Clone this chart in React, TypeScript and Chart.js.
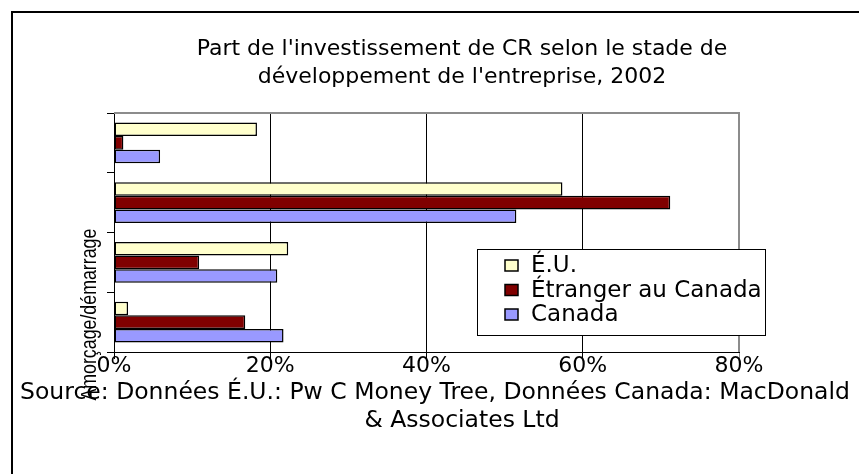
import React, { useEffect, useRef } from 'react';
import { Chart, registerables } from 'chart.js';

Chart.register(...registerables);

const categories = ['Amorçage/démarrage', '', '', ''];
const seriesNames = ['É.U.', 'Étranger au Canada', 'Canada'];
const euValues = [1.8, 22.3, 57.4, 18.3];
const etrangerValues = [16.8, 10.9, 71.2, 1.2];
const canadaValues = [21.7, 20.9, 51.5, 5.9];
const xTickValues = [0, 20, 40, 60, 80];
const titleLines = ["Part de l'investissement de CR selon le stade de", "développement de l'entreprise, 2002"];
const sourceLines = ['Source: Données É.U.: Pw C Money Tree, Données Canada: MacDonald', '& Associates Ltd'];
const seriesColors = ['#FFFFCC', '#800000', '#9999FF'];

const FONT = '"DejaVu Sans", sans-serif';
const ARIAL = '"Liberation Sans", Arial, sans-serif';

const framePlugin = {
  id: 'frame',
  beforeDraw(chart: any) {
    const { ctx, width, height } = chart;
    ctx.save();
    ctx.fillStyle = '#ffffff';
    ctx.fillRect(0, 0, width, height);
    ctx.strokeStyle = '#000000';
    ctx.lineWidth = 2;
    ctx.strokeRect(12, 12, 900, height + 20);
    ctx.restore();
  },
};

const plotBorderPlugin = {
  id: 'plotBorder',
  afterDatasetsDraw(chart: any) {
    const { ctx, chartArea } = chart;
    ctx.save();
    ctx.strokeStyle = '#8c8c8c';
    ctx.lineWidth = 2;
    ctx.beginPath();
    ctx.moveTo(chartArea.left, chartArea.top);
    ctx.lineTo(chartArea.right, chartArea.top);
    ctx.lineTo(chartArea.right, chartArea.bottom);
    ctx.stroke();
    ctx.restore();
  },
};

const extrasPlugin = {
  id: 'extras',
  afterDraw(chart: any) {
    const { ctx } = chart;
    const yScale = chart.scales.y;
    // category labels (rotated)
    categories.forEach((lab, i) => {
      if (!lab) return;
      const py = yScale.getPixelForValue(i);
      ctx.save();
      ctx.translate(90, py - 7.5);
      ctx.rotate(-Math.PI / 2);
      ctx.scale(1, 1.25);
      ctx.font = '17.8px ' + ARIAL;
      ctx.fillStyle = '#000';
      ctx.textAlign = 'center';
      ctx.textBaseline = 'middle';
      ctx.fillText(lab, 0, 0);
      ctx.restore();
    });

    // source lines
    ctx.save();
    ctx.font = '23.5px ' + FONT;
    ctx.fillStyle = '#000';
    ctx.textAlign = 'center';
    ctx.textBaseline = 'middle';
    ctx.fillText(sourceLines[0], 435, 393);
    ctx.fillText(sourceLines[1], 462, 421);
    ctx.restore();

    // legend
    const bx = 477, by = 249, bw = 288, bh = 86;
    ctx.save();
    ctx.fillStyle = '#fff';
    ctx.fillRect(bx, by, bw, bh);
    ctx.strokeStyle = '#000';
    ctx.lineWidth = 1;
    ctx.strokeRect(bx + 0.5, by + 0.5, bw, bh);
    ctx.font = '23px ' + FONT;
    ctx.textAlign = 'left';
    ctx.textBaseline = 'middle';
    chart.data.datasets.forEach((ds: any, i: number) => {
      const cy = 265.5 + i * 24.5;
      ctx.fillStyle = ds.backgroundColor;
      ctx.fillRect(505, cy - 5.5, 13, 11);
      ctx.strokeStyle = '#000';
      ctx.lineWidth = 1.5;
      ctx.strokeRect(505, cy - 5.5, 13, 11);
      ctx.fillStyle = '#000';
      ctx.fillText(ds.label, 531, cy + 1);
    });
    ctx.restore();
  },
};

export default function App() {
  const canvasRef = useRef<HTMLCanvasElement | null>(null);

  useEffect(() => {
    const canvas = canvasRef.current;
    if (!canvas) return;
    const makeDs = (i: number, data: number[]) => ({
      label: seriesNames[i],
      data,
      backgroundColor: seriesColors[i],
      borderColor: '#000000',
      borderWidth: 1.5,
      borderSkipped: false,
      categoryPercentage: 0.68,
      barPercentage: 1,
    });
    const chart = new Chart(canvas, {
      type: 'bar',
      data: {
        labels: categories,
        datasets: [makeDs(0, euValues), makeDs(1, etrangerValues), makeDs(2, canadaValues)],
      },
      options: {
        indexAxis: 'y',
        responsive: false,
        animation: false,
        devicePixelRatio: 1,
        layout: { padding: { left: 12, right: 12, top: 0, bottom: 97 } },
        font: { family: FONT },
        scales: {
          x: {
            type: 'linear',
            position: 'bottom',
            min: xTickValues[0],
            max: xTickValues[xTickValues.length - 1],
            afterBuildTicks: (s: any) => {
              s.ticks = xTickValues.map((v) => ({ value: v }));
            },
            ticks: {
              callback: (v: any) => v + '%',
              font: { family: FONT, size: 22, lineHeight: 1 },
              color: '#000',
              padding: -4,
              maxRotation: 0,
              autoSkip: false,
            },
            grid: {
              color: (c: any) => (c.tick && c.tick.value === 80 ? '#8c8c8c' : '#000000'),
              lineWidth: 1,
              tickLength: 7,
              drawTicks: true,
            },
            border: { color: '#000', width: 1 },
            afterFit: (s: any) => {
              s.height = 25;
            },
          },
          y: {
            type: 'category',
            position: 'left',
            reverse: true,
            ticks: { display: false },
            grid: { offset: true, drawOnChartArea: false, tickLength: 7, color: '#000' },
            border: { color: '#000', width: 1 },
            afterFit: (s: any) => {
              s.width = 102;
            },
          },
          yPad: {
            type: 'linear',
            axis: 'y',
            position: 'right',
            display: true,
            grid: { display: false },
            border: { display: false },
            ticks: { display: false },
            afterFit: (s: any) => {
              s.width = 173;
            },
          },
        },
        plugins: {
          legend: { display: false },
          tooltip: { enabled: false },
          title: {
            display: true,
            text: titleLines,
            color: '#000',
            font: { family: FONT, size: 22, weight: 'normal', lineHeight: '28px' },
            padding: { top: 35, bottom: 22 },
          },
        },
      } as any,
      plugins: [framePlugin, plotBorderPlugin, extrasPlugin],
    });
    return () => chart.destroy();
  }, []);

  return (
    <div
      style={{
        position: 'fixed',
        left: 0,
        top: 0,
        width: 859,
        height: 474,
        overflow: 'hidden',
        background: '#fff',
      }}
    >
      <canvas ref={canvasRef} width={924} height={474} style={{ display: 'block' }} />
    </div>
  );
}
